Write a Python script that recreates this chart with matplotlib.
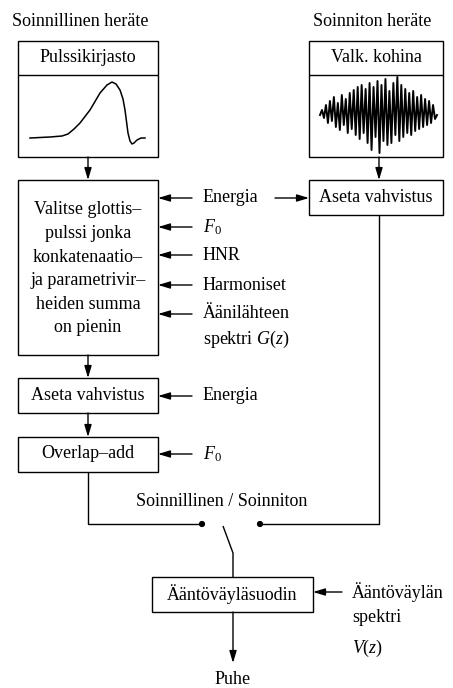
import matplotlib
matplotlib.use('agg')
import matplotlib.pyplot as plt
from matplotlib.patches import Rectangle, FancyArrowPatch, Circle

plt.rcParams['font.family'] = ['Liberation Serif', 'DejaVu Serif']
plt.rcParams['mathtext.fontset'] = 'custom'
plt.rcParams['mathtext.rm'] = 'Liberation Serif'
plt.rcParams['mathtext.it'] = 'Liberation Serif:italic'

FS = 13

# block labels
voiced_title = "Soinnillinen heräte"
unvoiced_title = "Soinniton heräte"
pulse_lib = "Pulssikirjasto"
noise_src = "Valk. kohina"
select_lines = ["Valitse glottis–", "pulssi jonka", "konkatenaatio–",
                "ja parametrivir–", "heiden summa", "on pienin"]
select_inputs = ["Energia", r"$F_0$", "HNR", "Harmoniset", "Äänilähteen"]
gain_label = "Aseta vahvistus"
ola_label = "Overlap–add"
switch_label = "Soinnillinen / Soinniton"
filter_label = "Ääntöväyläsuodin"
filter_input = ["Ääntöväylän", "spektri", r"$\mathit{V(z)}$"]
output_label = "Puhe"

# glottal pulse shape (x, y in pixels)
pulse_x = [30, 50, 62, 68, 74, 80, 90, 100, 107, 112, 116, 120, 123, 125, 128, 130, 132, 134, 137, 141, 145]
pulse_y = [138, 137, 136, 134, 129, 123, 110, 93, 85, 82, 84, 90, 99, 110, 133, 141, 144, 143, 140, 138, 138]

# white-noise burst, offsets (pixels, up positive)
noise_amp = [0, 5, -3, 10, -8, 14, -6, 18, -12, 12, -15, 20, -10, 16, -18, 22, -14, 25,
             -20, 28, -24, 30, -18, 26, -28, 32, -35, 28, -22, 34, -38, 30, -26, 36, -30,
             24, -28, 32, -20, 38, -26, 30, -22, 26, -18, 22, -20, 24, -16, 18, -14, 20,
             -12, 16, -10, 14, -8, 10, -4, 0]

fig = plt.figure(figsize=(4.53, 6.88), dpi=100)
ax = fig.add_axes([0, 0, 1, 1])
ax.set_xlim(0, 453)
ax.set_ylim(688, 0)
ax.axis('off')

LW = 1.0


def box(x0, y0, x1, y1):
    ax.add_patch(Rectangle((x0, y0), x1 - x0, y1 - y0, fill=False, lw=LW, ec='black'))


def line(xs, ys):
    ax.plot(xs, ys, color='black', lw=LW, solid_capstyle='butt')


def arrow(x0, y0, x1, y1):
    ax.add_patch(FancyArrowPatch((x0, y0), (x1, y1), arrowstyle='-|>,head_length=0.6,head_width=0.18',
                                 mutation_scale=12, lw=LW, color='black', shrinkA=0, shrinkB=0))


def txt(x, y, s, ha='center', **kw):
    ax.text(x, y, s, ha=ha, va='center', fontsize=FS, **kw)


# voiced source
txt(80, 21, voiced_title)
box(18, 41, 158, 157)
line([18, 158], [75, 75])
txt(88, 58, pulse_lib)
ax.plot(pulse_x, pulse_y, color='black', lw=1.1)
arrow(88, 157, 88, 180)

# unvoiced source
txt(372, 21, unvoiced_title)
box(309, 41, 443, 157)
line([309, 443], [75, 75])
txt(376, 58, noise_src)
n = len(noise_amp)
nx = [320 + i * (437 - 320) / (n - 1) for i in range(n)]
ny = [115 - a for a in noise_amp]
ax.plot(nx, ny, color='black', lw=1.4)
arrow(379, 157, 379, 180)

# pulse selection block
box(18, 180, 158, 355)
for i, s in enumerate(select_lines):
    txt(88, 210 + i * 23.6, s)
for yy, s in zip([198, 227, 255, 285, 314], select_inputs):
    arrow(192, yy, 158, yy)
    txt(203, yy, s, ha='left')
txt(203, 339, r"spektri $\mathit{G(z)}$", ha='left')
arrow(275, 198, 309, 198)

# unvoiced gain
box(309, 180, 443, 215)
txt(376, 198, gain_label)
line([379, 379, 260], [215, 524, 524])

# voiced gain and overlap-add
arrow(88, 355, 88, 378)
box(18, 378, 158, 413)
txt(88, 396, gain_label)
arrow(192, 396, 158, 396)
txt(203, 396, "Energia", ha='left')
arrow(88, 413, 88, 437)
box(18, 437, 158, 472)
txt(88, 454, ola_label)
arrow(192, 454, 158, 454)
txt(203, 454, r"$F_0$", ha='left')
line([88, 88, 202], [472, 524, 524])

# switch
txt(222, 501, switch_label)
for cx in (202, 260):
    ax.add_patch(Circle((cx, 524), 2.4, color='black'))
line([223, 233, 233], [526, 553, 577])

# vocal tract filter
box(152, 577, 313, 612)
txt(232, 594, filter_label)
arrow(342, 592, 313, 592)
txt(352, 592, filter_input[0], ha='left')
txt(352, 618, filter_input[1], ha='left')
txt(352, 648, filter_input[2], ha='left')
arrow(233, 612, 233, 663)
txt(233, 679, output_label)

fig.savefig('out.png', dpi=100)
